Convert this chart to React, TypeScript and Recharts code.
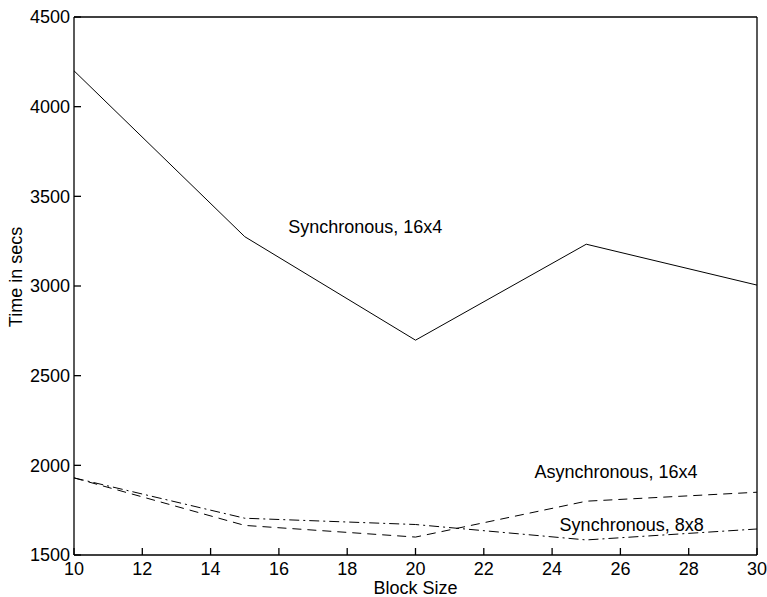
import { LineChart, Line, XAxis, YAxis, ReferenceDot } from 'recharts';

// block sizes on the x axis
const blockSizes = [10, 15, 20, 25, 30];

// time in secs per series
const sync16x4 = [4200, 3275, 2698, 3233, 3005];
const async16x4 = [1930, 1665, 1600, 1800, 1850];
const sync8x8 = [1930, 1705, 1670, 1584, 1645];

const xTicks = [10, 12, 14, 16, 18, 20, 22, 24, 26, 28, 30];
const yTicks = [1500, 2000, 2500, 3000, 3500, 4000, 4500];

// in-plot labels: [text, x, y]
const notes: [string, number, number][] = [
  ['Synchronous, 16x4', 18.53, 3330],
  ['Asynchronous, 16x4', 25.87, 1964],
  ['Synchronous, 8x8', 26.33, 1671],
];

const data = blockSizes.map((b, i) => ({
  block: b,
  s16: sync16x4[i],
  a16: async16x4[i],
  s88: sync8x8[i],
}));

const FONT = 'Liberation Sans, Arial, sans-serif';
const font = { fontFamily: FONT, fontSize: 18, fill: '#000' };

const YTitle = () => (
  <text x={16} y={277} transform="rotate(-90 16 277)" textAnchor="middle" dominantBaseline="central"
    fontFamily={FONT} fontSize={18} fill="#000">
    Time in secs
  </text>
);

export default function App() {
  return (
    <div style={{ position: 'absolute', left: 0, top: 0, background: '#fff' }}>
      <LineChart width={767} height={597} data={data} margin={{ top: 16, right: 9, bottom: 0, left: 0 }}>
        <XAxis
          dataKey="block"
          type="number"
          domain={[10, 30]}
          ticks={xTicks}
          stroke="#000"
          strokeWidth={1.3}
          tickSize={-7}
          tickMargin={14}
          tick={font}
          height={42}
          label={{ value: 'Block Size', position: 'insideBottom', offset: 3.5, ...font }}
        />
        <XAxis
          xAxisId="top"
          dataKey="block"
          type="number"
          orientation="top"
          domain={[10, 30]}
          ticks={xTicks}
          stroke="#000"
          strokeWidth={1.3}
          tickSize={-7}
          tick={false}
          height={1}
        />
        <YAxis
          type="number"
          domain={[1500, 4500]}
          ticks={yTicks}
          stroke="#000"
          strokeWidth={1.3}
          tickSize={-7}
          tickMargin={11}
          tick={font}
          width={74}
          label={<YTitle />}
        />
        <YAxis
          yAxisId="right"
          type="number"
          orientation="right"
          domain={[1500, 4500]}
          ticks={yTicks}
          stroke="#000"
          strokeWidth={1.3}
          tickSize={-7}
          tick={false}
          width={1}
        />
        <Line dataKey="s16" stroke="#000" strokeWidth={1} dot={false} isAnimationActive={false} />
        <Line dataKey="a16" stroke="#000" strokeWidth={1} strokeDasharray="9 6" dot={false} isAnimationActive={false} />
        <Line dataKey="s88" stroke="#000" strokeWidth={1} strokeDasharray="10 4 2 4" dot={false} isAnimationActive={false} />
        {notes.map(([t, x, y]) => (
          <ReferenceDot
            key={t}
            x={x}
            y={y}
            r={0}
            fill="none"
            stroke="none"
            label={{ value: t, position: 'center', ...font }}
          />
        ))}
      </LineChart>
    </div>
  );
}
